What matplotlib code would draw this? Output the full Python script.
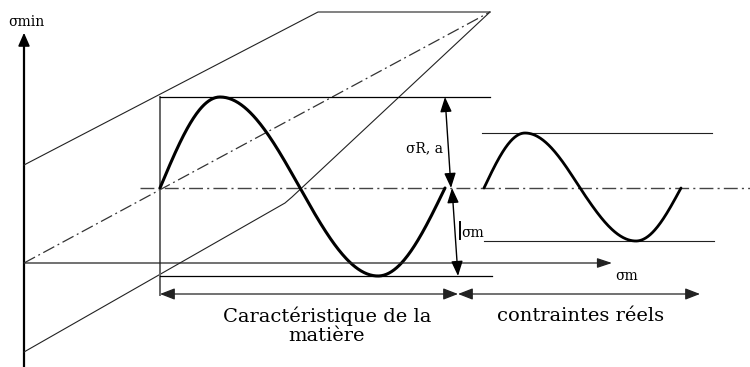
import numpy as np
import matplotlib.pyplot as plt

plt.rcParams["font.family"] = ["DejaVu Serif"]

# Diagram geometry (pixel-like units, y grows downward)
origin = (24, 263)
y_axis_top = 30
y_axis_bottom = 367
x_axis_end = 612

upper_limit = [(24, 165), (318, 12), (490, 12)]
lower_limit = [(24, 352), (285, 203), (292, 197), (490, 12)]
mean_line = [(24, 263), (490, 12)]

# big cycle (material characteristic): x of start, peak, crossing, trough, end
big_knots_x = [160, 220, 300, 378, 445]
big_mid, big_top, big_bottom = 188, 97, 276
# small cycle (actual stresses)
small_knots_x = [484, 525, 580, 636, 681]
small_top, small_bottom = 133, 241


def cycle(knots_x, mid, top, bottom, n=80):
    """One loading cycle, each quarter drawn as a quarter sine between knots."""
    levels = [mid, top, mid, bottom, mid]
    xs, ys = [], []
    for i in range(4):
        s = np.linspace(0, 1, n)
        if i % 2 == 0:
            shape = np.sin(s * np.pi / 2)
        else:
            shape = 1 - np.cos(s * np.pi / 2)
        xs.append(knots_x[i] + (knots_x[i + 1] - knots_x[i]) * s)
        ys.append(levels[i] + (levels[i + 1] - levels[i]) * shape)
    return np.concatenate(xs), np.concatenate(ys)


fig = plt.figure(figsize=(7.5, 3.67), dpi=100)
ax = fig.add_axes([0, 0, 1, 1])
ax.set_xlim(0, 750)
ax.set_ylim(367, 0)
ax.axis("off")

thin = dict(color="#222222", lw=0.8)
dashdot = (0, (10, 3, 1.5, 3))

# axes
ax.plot([origin[0], origin[0]], [y_axis_bottom, y_axis_top + 8], color="black", lw=1.6)
ax.annotate("", xy=(origin[0], y_axis_top), xytext=(origin[0], y_axis_top + 14),
            arrowprops=dict(arrowstyle="-|>,head_length=0.8,head_width=0.35",
                            color="black", lw=1.2))
ax.annotate("", xy=(x_axis_end, origin[1]), xytext=(origin[0], origin[1]),
            arrowprops=dict(arrowstyle="-|>,head_length=0.9,head_width=0.3",
                            color="#222222", lw=0.9, shrinkA=0, shrinkB=0))
ax.text(8, 22, "σmin", fontsize=10, va="center", ha="left")
ax.text(615, 276, "σm", fontsize=10, va="center", ha="left")

# limit lines
ax.plot(*zip(*upper_limit), **thin)
ax.plot(*zip(*lower_limit), **thin)
ax.plot(*zip(*mean_line), color="#333333", lw=0.9, linestyle=dashdot)

# horizontal mean stress line
ax.plot([140, 750], [big_mid, big_mid], color="#444444", lw=1.0, linestyle=dashdot)

# vertical boundary of the material cycle
ax.plot([160, 160], [big_top, 295], color="#666666", lw=1.4)

# horizontal guide lines
ax.plot([160, 490], [big_top, big_top], color="black", lw=0.9)
ax.plot([160, 492], [big_bottom, big_bottom], color="black", lw=0.9)
ax.plot([482, 712], [small_top, small_top], color="#222222", lw=0.8)
ax.plot([484, 714], [small_bottom, small_bottom], color="#222222", lw=0.8)

# loading cycles
bx, by = cycle(big_knots_x, big_mid, big_top, big_bottom)
ax.plot(bx, by, color="black", lw=2.2, solid_capstyle="round")
sx, sy = cycle(small_knots_x, big_mid, small_top, small_bottom)
ax.plot(sx, sy, color="black", lw=2.0, solid_capstyle="round")

# amplitude and mean stress arrows
head = "<|-|>,head_length=0.9,head_width=0.35"
ax.annotate("", xy=(445, big_top), xytext=(451, big_mid),
            arrowprops=dict(arrowstyle=head, color="black", lw=1.0, shrinkA=0, shrinkB=0))
ax.annotate("", xy=(452, big_mid), xytext=(458, big_bottom),
            arrowprops=dict(arrowstyle=head, color="black", lw=1.0, shrinkA=0, shrinkB=0))
ax.text(406, 148, "σR, a", fontsize=10, va="center", ha="left")
ax.plot([460, 460], [222, 239], color="black", lw=1.4)
ax.text(461, 233, "σm", fontsize=10, va="center", ha="left")

# range arrows at the bottom
ax.annotate("", xy=(160, 294), xytext=(458, 294),
            arrowprops=dict(arrowstyle=head, color="#222222", lw=0.9, shrinkA=0, shrinkB=0))
ax.annotate("", xy=(458, 294), xytext=(700, 294),
            arrowprops=dict(arrowstyle=head, color="#222222", lw=0.9, shrinkA=0, shrinkB=0))

ax.text(327, 326, "Caractéristique de la\nmatière", fontsize=14, ha="center",
        va="center", linespacing=1.1)
ax.text(581, 316, "contraintes réels", fontsize=14, ha="center", va="center")

fig.savefig("out.png", dpi=100)
